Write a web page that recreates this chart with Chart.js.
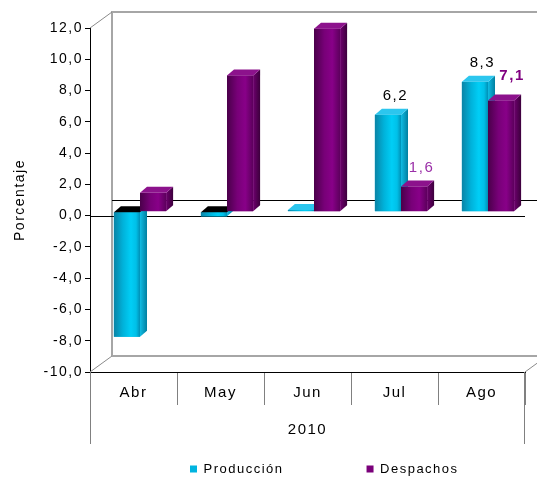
<!DOCTYPE html>
<html><head><meta charset="utf-8">
<script src="https://cdn.jsdelivr.net/npm/chart.js@4"></script>
<style>html,body{margin:0;padding:0;background:#fff}canvas{display:block}</style>
</head><body>
<canvas id="c" width="537" height="481"></canvas>
<script>
// ---- data ----
const categories = ['Abr', 'May', 'Jun', 'Jul', 'Ago'];
const groupLabel = '2010';
const seriesNames = ['Producción', 'Despachos'];
const produccion = [-8.0, -0.3, 0.1, 6.2, 8.3];
const despachos = [1.2, 8.7, 11.7, 1.6, 7.1];
const produccionShowLabel = [false, false, false, true, true];
const despachosShowLabel = [false, false, false, true, true];
const yMin = -10, yMax = 12, yStep = 2;
const axisTitle = 'Porcentaje';

// ---- style ----
const FONT = '"Liberation Sans", Arial, Helvetica, sans-serif';
Chart.defaults.font.family = FONT;
Chart.defaults.color = '#000';
const SPACING = '1.5px';
const fmt = v => Number(v).toFixed(1).replace('.', ',');

const WALL = {x: 22, y: -16};
const BAR_SHIFT = {x: 6.5, y: -4};
const BAR_DEPTH = {x: 7, y: -6};

const palette = [
  {legend: '#00b4e0',
   front: [[0, '#0a84a6'], [0.35, '#00b2da'], [0.65, '#00cef6'], [0.85, '#00c0e8'], [1, '#0090b6']],
   side: ['#10bce4', '#007fa0'], top: '#2cc6ee', cap: '#000000',
   label: {color: '#000000', bold: []}},
  {legend: '#7a007a',
   front: [[0, '#4a004a'], [0.4, '#780078'], [0.7, '#880088'], [1, '#5c005c']],
   side: ['#6e006e', '#3c003c'], top: '#8c128c', cap: '#000000',
   label: {color: '#9b30a8', boldColor: '#800080', bold: [4]}}
];
const showLabels = [produccionShowLabel, despachosShowLabel];

function drawBar(ctx, el, pal, negative) {
  const {x, y, base, width} = el.getProps(['x', 'y', 'base', 'width'], true);
  const l = x - width / 2, r = x + width / 2;
  const top = Math.min(y, base), bot = Math.max(y, base);
  const dx = BAR_DEPTH.x, dy = BAR_DEPTH.y;
  let g = ctx.createLinearGradient(l, 0, r, 0);
  pal.front.forEach(([o, c]) => g.addColorStop(o, c));
  ctx.fillStyle = g;
  ctx.fillRect(l, top, width, bot - top);
  g = ctx.createLinearGradient(r, 0, r + dx, 0);
  g.addColorStop(0, pal.side[0]); g.addColorStop(1, pal.side[1]);
  ctx.fillStyle = g;
  ctx.beginPath();
  ctx.moveTo(r, top); ctx.lineTo(r + dx, top + dy); ctx.lineTo(r + dx, bot + dy); ctx.lineTo(r, bot);
  ctx.closePath(); ctx.fill();
  ctx.fillStyle = negative ? pal.cap : pal.top;
  ctx.beginPath();
  ctx.moveTo(l, top); ctx.lineTo(l + dx, top + dy); ctx.lineTo(r + dx, top + dy); ctx.lineTo(r, top);
  ctx.closePath(); ctx.fill();
}

const threeD = {
  id: 'threeD',
  beforeUpdate(chart) { chart.ctx.letterSpacing = SPACING; },
  beforeLayout(chart) { chart.ctx.letterSpacing = SPACING; },
  afterLayout(chart) {
    const lg = chart.legend;
    if (!lg || !lg.lineWidths) return;
    const P = lg.options.labels.padding;
    const x0 = (lg.left + P + lg.right - lg.lineWidths[0]) / 2;
    const shift = 190 - x0;
    lg.left += shift; lg.right += shift;
    lg.top = 469 - 6.5 - P;
    lg.bottom = chart.height + 10;
  },
  beforeDraw(chart) { chart.ctx.letterSpacing = SPACING; },
  beforeDatasetsDraw(chart) {
    const {ctx, chartArea: a, scales: {y}} = chart;
    const z = Math.round(y.getPixelForValue(0)) + 0.5;
    ctx.save();
    // back wall
    ctx.strokeStyle = '#a6a6a6'; ctx.lineWidth = 2;
    ctx.beginPath();
    ctx.moveTo(a.left + WALL.x, a.bottom + WALL.y);
    ctx.lineTo(a.left + WALL.x, a.top + WALL.y);
    ctx.lineTo(a.right + WALL.x, a.top + WALL.y);
    ctx.moveTo(a.left + WALL.x, a.bottom + WALL.y);
    ctx.lineTo(a.right + WALL.x, a.bottom + WALL.y);
    ctx.stroke();
    // depth diagonals
    ctx.lineWidth = 1; ctx.strokeStyle = '#8a8a8a';
    ctx.beginPath();
    ctx.moveTo(a.left, a.top); ctx.lineTo(a.left + WALL.x, a.top + WALL.y);
    ctx.moveTo(a.left, a.bottom); ctx.lineTo(a.left + WALL.x, a.bottom + WALL.y);
    ctx.moveTo(a.right, a.bottom); ctx.lineTo(a.right + WALL.x, a.bottom + WALL.y);
    ctx.stroke();
    // zero plane
    ctx.strokeStyle = '#000'; ctx.lineWidth = 1;
    ctx.beginPath();
    ctx.moveTo(a.left, z); ctx.lineTo(a.right, z);
    ctx.moveTo(a.left + WALL.x, z + WALL.y); ctx.lineTo(a.right + WALL.x, z + WALL.y);
    ctx.stroke();
    // outer edges of the category table
    const xs = chart.scales.x;
    ctx.strokeStyle = '#808080';
    ctx.beginPath();
    ctx.moveTo(Math.round(xs.left) + 0.5, a.bottom); ctx.lineTo(Math.round(xs.left) + 0.5, xs.bottom);
    ctx.moveTo(Math.round(xs.right) - 0.5, a.bottom); ctx.lineTo(Math.round(xs.right) - 0.5, xs.bottom);
    ctx.stroke();
    ctx.restore();
    ctx.save();
    ctx.translate(BAR_SHIFT.x, BAR_SHIFT.y);
  },
  afterDatasetsDraw(chart) {
    const ctx = chart.ctx;
    const metas = chart.data.datasets.map((d, i) => chart.getDatasetMeta(i));
    for (let i = 0; i < categories.length; i++) {
      metas.forEach((m, di) => {
        const el = m.data[i];
        if (!el) return;
        drawBar(ctx, el, palette[di], chart.data.datasets[di].data[i] < 0);
      });
    }
    ctx.textAlign = 'center'; ctx.textBaseline = 'middle';
    metas.forEach((m, di) => {
      const pal = palette[di];
      m.data.forEach((el, i) => {
        if (!showLabels[di][i]) return;
        const {x, y, base} = el.getProps(['x', 'y', 'base'], true);
        const bold = pal.label.bold.includes(i);
        ctx.font = (bold ? 'bold ' : '') + '15px ' + FONT;
        ctx.fillStyle = bold ? pal.label.boldColor : pal.label.color;
        const dx = bold ? 11 : 7.5, dy = bold ? 25 : 19;
        ctx.fillText(fmt(chart.data.datasets[di].data[i]), x + dx, Math.min(y, base) - dy);
      });
    });
    ctx.restore();
  }
};

new Chart(document.getElementById('c'), {
  type: 'bar',
  data: {
    labels: categories,
    datasets: [
      {label: seriesNames[0], data: produccion, backgroundColor: palette[0].legend, borderWidth: 0,
       categoryPercentage: 0.6, barPercentage: 1.0, clip: false},
      {label: seriesNames[1], data: despachos, backgroundColor: palette[1].legend, borderWidth: 0,
       categoryPercentage: 0.6, barPercentage: 1.0, clip: false}
    ]
  },
  options: {
    responsive: false,
    animation: false,
    events: [],
    layout: {padding: {left: 0, top: 28, right: 12, bottom: 0}},
    plugins: {
      legend: {
        position: 'bottom',
        maxHeight: 37,
        labels: {boxWidth: 7, boxHeight: 7, padding: 83, font: {size: 13}, color: '#000'}
      },
      tooltip: {enabled: false}
    },
    scales: {
      x: {
        grid: {offset: true, drawOnChartArea: false, drawTicks: true, tickLength: 33, color: '#808080'},
        border: {display: true, color: '#000', width: 1},
        ticks: {padding: -21, font: {size: 15}, color: '#000', maxRotation: 0},
        title: {display: true, text: groupLabel, font: {size: 15}, color: '#000', padding: {top: 0, bottom: 5.5}},
        afterFit(s) { s.height = 72; }
      },
      y: {
        min: yMin, max: yMax,
        grid: {drawOnChartArea: false, drawTicks: true, tickLength: 5, color: '#000'},
        border: {display: true, color: '#000', width: 1},
        ticks: {stepSize: yStep, padding: 2, font: {size: 14}, color: '#000', callback: v => fmt(v)},
        title: {display: true, text: axisTitle, font: {size: 14}, color: '#000', padding: {top: 12, bottom: 0}},
        afterFit(s) { s.width = 90; }
      }
    }
  },
  plugins: [threeD]
});
</script>
</body></html>
